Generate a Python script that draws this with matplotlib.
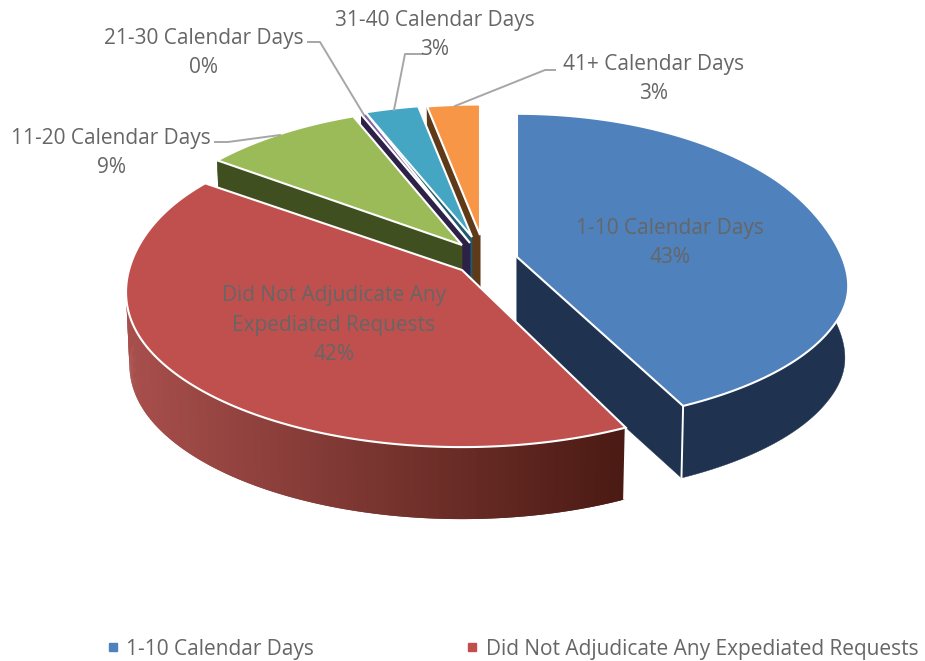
import numpy as np
import matplotlib
matplotlib.use("Agg")
import matplotlib.pyplot as plt
from matplotlib.patches import Polygon
from matplotlib.collections import PolyCollection
from matplotlib.lines import Line2D

# ---- data ----
categories = ["1-10 Calendar Days", "Did Not Adjudicate Any\nExpediated Requests",
              "11-20 Calendar Days", "21-30 Calendar Days",
              "31-40 Calendar Days", "41+ Calendar Days"]
values = [43, 42, 9, 0.3, 3, 3]
pct_labels = ["43%", "42%", "9%", "0%", "3%", "3%"]
legend_labels = ["1-10 Calendar Days", "Did Not Adjudicate Any Expediated Requests"]

# ---- style / layout ----
top_colors = ["#4f81bd", "#c0504d", "#9bbb59", "#8064a2", "#45a6c4", "#f79646"]
wall_colors = ["#1f3350", None, "#3f4f20", "#2d2148", "#1f5a6e", "#5f3a18"]
red_wall_left, red_wall_right = "#a84f4c", "#4a1a13"
apexes = [(517, 257), (462, 270), (462, 245), (470, 243), (472, 237), (480, 235)]
radii = [325, 333, 325, 325, 325, 325]
ry_back = [179, 160, 160, 160, 150, 150]
ry_front = [140, 154, 147, 147, 147, 147]
b_back = [0.2, 0.1, 0.14, 0.14, 0.115, 0.13]
b_front = [0.2, 0.15, 0.2, 0.2, 0.2, 0.2]
depth = 72
x_shrink = 0.99
draw_order = [5, 4, 3, 2, 0, 1]
txt = "#666666"
leader = "#a6a6a6"
font = "Open Sans"
fs = 15.0

plt.rcParams["font.family"] = font
fig = plt.figure(figsize=(9.25, 6.61), dpi=100)
ax = fig.add_axes([0, 0, 1, 1])
ax.set_xlim(0, 925)
ax.set_ylim(661, 0)
ax.axis("off")


def project(i, theta):
    """theta in degrees, clockwise from 12 o'clock; returns top-surface point."""
    t = np.radians(theta)
    u, v = np.sin(t), np.cos(t)
    w = np.clip((v + 0.5) / 1.0, 0, 1)
    w = w * w * (3 - 2 * w)
    s = 1 - (b_front[i] + (b_back[i] - b_front[i]) * w) * v
    ry = ry_front[i] + (ry_back[i] - ry_front[i]) * w
    return apexes[i][0] + radii[i] * u * s, apexes[i][1] - ry * v * s


def lower(i, x, y):
    return apexes[i][0] + (np.asarray(x) - apexes[i][0]) * x_shrink, np.asarray(y) + depth


def blend(c0, c1, f):
    a = np.array(matplotlib.colors.to_rgb(c0))
    c = np.array(matplotlib.colors.to_rgb(c1))
    return tuple(a + (c - a) * f)


fractions = np.array(values, dtype=float) / np.sum(values)
edges = np.concatenate([[0], np.cumsum(fractions) * 360])

for z, i in enumerate(draw_order):
    th = np.linspace(edges[i], edges[i + 1], max(int(edges[i + 1] - edges[i]) * 2, 3))
    x, y = project(i, th)
    xb, yb = lower(i, x, y)
    ax0, ay0 = apexes[i]
    base = 10 + z * 10
    # radial cut walls
    wc = wall_colors[i] if wall_colors[i] else red_wall_right
    for k in (0, -1):
        xa, ya = lower(i, ax0, ay0)
        ax.add_patch(Polygon([(ax0, ay0), (x[k], y[k]), (xb[k], yb[k]), (xa, ya)],
                             closed=True, fc=wc, ec=wc, lw=0.3, zorder=base))
    # outer wall
    if wall_colors[i] is None:
        quads, cols = [], []
        for k in range(len(th) - 2):
            quads.append([(x[k], y[k]), (x[k + 2], y[k + 2]), (xb[k + 2], yb[k + 2]), (xb[k], yb[k])])
            f = (0.5 * (x[k] + x[k + 1]) - x.min()) / (x.max() - x.min())
            cols.append(blend(red_wall_left, red_wall_right, f))
        ax.add_collection(PolyCollection(quads, facecolors=cols, edgecolors="none", linewidths=0,
                                         zorder=base + 1))
    else:
        ax.add_patch(Polygon(np.column_stack([np.r_[x, xb[::-1]], np.r_[y, yb[::-1]]]), closed=True,
                             fc=wc, ec=wc, lw=0.3, zorder=base + 1))
    # white vertical at front corners
    for k in (0, -1):
        if np.cos(np.radians(th[k])) < 0:
            ax.plot([x[k], xb[k]], [y[k], yb[k]], color="white", lw=1.4, zorder=base + 2,
                    solid_capstyle="butt")
    # top
    pts = np.column_stack([np.r_[ax0, x], np.r_[ay0, y]])
    ax.add_patch(Polygon(pts, closed=True, fc=top_colors[i], ec="white", lw=1.5,
                         joinstyle="miter", zorder=base + 3))

# ---- labels ----
label_pos = [(670, 243), (334, 325), (111, 153), (204, 53), (435, 35), (654, 79)]
for i, (cat, pct, p) in enumerate(zip(categories, pct_labels, label_pos)):
    ax.text(p[0], p[1], cat + "\n" + pct, ha="center", va="center", color=txt, fontsize=fs,
            linespacing=1.5, zorder=200)

leader_paths = [
    ([215, 228, 280], [142, 142, 135]),
    ([308, 320, 364], [42, 42, 115]),
    ([422, 405, 394], [54, 54, 110]),
    ([555, 545, 455], [70, 70, 106]),
]
for lx, ly in leader_paths:
    ax.add_line(Line2D(lx, ly, color=leader, lw=1.4, zorder=150))

# ---- legend ----
handles = [Line2D([], [], ls="", marker="s", ms=5.5, color=top_colors[k]) for k in range(2)]
ax.legend(handles, legend_labels, ncol=2, frameon=False, labelcolor=txt, fontsize=fs,
          loc="center left", bbox_to_anchor=(100 / 925, 1 - 649 / 661), bbox_transform=ax.transAxes,
          handletextpad=0.05, columnspacing=7.0, borderpad=0, borderaxespad=0, handlelength=1.2)

fig.savefig("out.png", dpi=100)
